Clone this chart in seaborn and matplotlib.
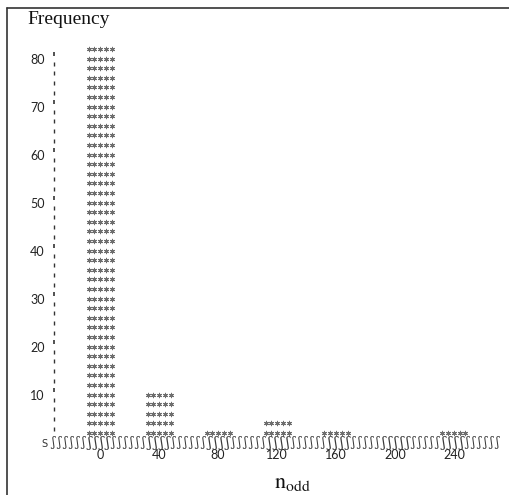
import numpy as np
import pandas as pd
import seaborn as sns
import matplotlib.pyplot as plt
from matplotlib.lines import Line2D
import matplotlib.transforms as mtransforms

# histogram of n_odd, line-printer style (one row of stars = 2 counts)
bin_mids = [0, 40, 80, 120, 160, 240]
counts = [82, 10, 2, 4, 2, 2]
x_ticks = [0, 40, 80, 120, 160, 200, 240]
y_ticks = [10, 20, 30, 40, 50, 60, 70, 80]

rows_per_count = 2
star_offsets = [-7.8, -3.9, 0, 3.9, 7.8]

# expand counts into star rows
recs = []
for mid, c in zip(bin_mids, counts):
    for level in range(rows_per_count, c + 1, rows_per_count):
        for off in star_offsets:
            recs.append({'x': mid + off, 'y': level})
stars = pd.DataFrame(recs)

sns.set_theme(style='white')
plt.rcParams['font.family'] = ['Lato', 'DejaVu Sans']
plt.rcParams['mathtext.fontset'] = 'stix'

fig = plt.figure(figsize=(5.1, 4.95), dpi=100)
W, H = 510, 495
xlim = (-31.9, 274.6)
ylim = (-1, 88)
ax = fig.add_axes([53 / W, (H - 447.4) / H, 452 / W, 427.2 / H])

sns.scatterplot(data=stars, x='x', y='y', marker=(6, 2, 0), s=10,
                color='#6e6e6e', linewidth=0.75, legend=False, ax=ax)

ax.set_xlim(*xlim)
ax.set_ylim(*ylim)
for s in ax.spines.values():
    s.set_visible(False)
ax.set_xlabel('')
ax.set_ylabel('')

ax.set_xticks(x_ticks)
ax.set_xticklabels([str(t) for t in x_ticks])
ax.set_yticks(y_ticks)
ax.set_yticklabels([str(t) for t in y_ticks])
ax.tick_params(axis='both', length=0, labelsize=9, colors='#222222')
ax.tick_params(axis='x', pad=1.5)
ax.tick_params(axis='y', pad=6)

# y axis drawn as little printer marks
trans_y = mtransforms.blended_transform_factory(ax.transAxes, ax.transData)
minor = [v for v in range(2, 81, 2) if v % 10]
ax.plot([0.002] * len(minor), [v + 0.9 for v in minor], ls='none',
        marker='|', ms=2.3, mew=1.0, color='#333333', transform=trans_y, clip_on=False)
ax.plot([0.002] * len(y_ticks), [v + 0.9 for v in y_ticks], ls='none',
        marker='|', ms=3.5, mew=1.2, color='#333333', transform=trans_y, clip_on=False)

# x axis drawn as a row of printer characters
ax.text(-0.026, -0.3, 'S', transform=trans_y, ha='left', va='center',
        fontsize=7, color='#333333', family='DejaVu Sans')
tick_px = [100 + 1.475 * t for t in x_ticks]
for i in range(75):
    px = 53 + 6 * i
    tall = min(abs(px - tp) for tp in tick_px) <= 12
    ax.text((px - 53) / 452, 0, '\u0283', transform=trans_y, ha='center',
            va='center', fontsize=10 if tall else 8.5, color='#3a3a3a',
            family='DejaVu Serif')

fig.text(27 / W, 1 - 20 / H, 'Frequency', ha='left', va='center',
         fontsize=14, family='Liberation Serif', color='#111111')
fig.text(292 / W, 1 - 483 / H, r'$\mathrm{n}_{\mathrm{odd}}$', ha='center',
         va='center', fontsize=16, color='#111111')

# frame lines of the scanned page
fig.add_artist(Line2D([7.5 / W, 7.5 / W], [0, 1 - 7.5 / H], color='#333333', lw=1.2))
fig.add_artist(Line2D([7.5 / W, 1], [1 - 7.5 / H, 1 - 7.5 / H], color='#333333', lw=1.2))

fig.savefig('out.png', dpi=100)
